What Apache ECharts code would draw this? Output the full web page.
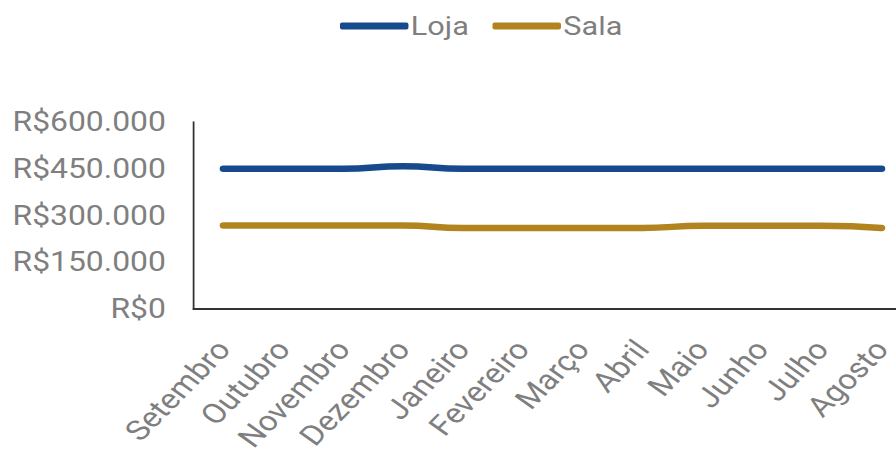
<!DOCTYPE html>
<html>
<head>
<meta charset="utf-8">
<script src="https://cdn.jsdelivr.net/npm/echarts@6/dist/echarts.min.js"></script>
<style>
  html, body { margin: 0; padding: 0; background: #fff; overflow: hidden; }
  #wrap { width: 896px; height: 453px; overflow: hidden; }
  /* chart is laid out narrower and widened horizontally */
  #chart { width: 759px; height: 453px; transform: scaleX(1.18050); transform-origin: 0 0; }
</style>
</head>
<body>
<div id="wrap"><div id="chart"></div></div>
<script>
const categories = ['Setembro', 'Outubro', 'Novembro', 'Dezembro', 'Janeiro', 'Fevereiro', 'Março', 'Abril', 'Maio', 'Junho', 'Julho', 'Agosto'];
const lojaValues = [450000, 450000, 450000, 458000, 450000, 450000, 450000, 450000, 450000, 450000, 450000, 450000];
const salaValues = [268000, 268000, 268000, 268000, 260000, 260000, 260000, 260000, 267000, 267000, 267000, 260000];
const seriesNames = ['Loja', 'Sala'];
const seriesColors = ['#174a8c', '#b2841f'];
const yMin = 0, yMax = 600000, yStep = 150000;

function formatBRL(v) {
  return 'R$' + String(Math.round(v)).replace(/\B(?=(\d{3})+(?!\d))/g, '.');
}

const grey = '#7f7f7f';
const font = 'Roboto';

const chart = echarts.init(document.getElementById('chart'), null, { renderer: 'svg' });
chart.setOption({
  animation: false,
  backgroundColor: '#fff',
  textStyle: { fontFamily: font },
  legend: {
    left: 283,
    top: 8,
    itemWidth: 58,
    itemHeight: 7,
    itemGap: 20,
    icon: 'roundRect',
    textStyle: { color: grey, fontSize: 26, fontFamily: font, padding: [0, 0, 0, -3] },
    data: seriesNames
  },
  grid: {
    left: 164,
    right: -13,
    top: 122,
    bottom: 144,
    containLabel: false,
    outerBoundsMode: 'none'
  },
  xAxis: {
    type: 'category',
    data: categories,
    boundaryGap: true,
    axisLine: { show: true, lineStyle: { color: '#333', width: 2 } },
    axisTick: { show: false },
    axisLabel: {
      rotate: 50,
      interval: 0,
      margin: 35,
      color: grey,
      fontSize: 28,
      fontFamily: font
    },
    splitLine: { show: false }
  },
  yAxis: {
    type: 'value',
    min: yMin,
    max: yMax,
    interval: yStep,
    axisLine: { show: true, lineStyle: { color: '#333', width: 1.5 } },
    axisTick: { show: false },
    splitLine: { show: false },
    axisLabel: {
      margin: 23.5,
      color: grey,
      fontSize: 27,
      fontFamily: font,
      formatter: formatBRL
    }
  },
  series: [
    {
      name: seriesNames[0],
      type: 'line',
      data: lojaValues,
      smooth: 0.5,
      showSymbol: false,
      color: seriesColors[0],
      lineStyle: { width: 6.5, cap: 'round', join: 'round' }
    },
    {
      name: seriesNames[1],
      type: 'line',
      data: salaValues,
      smooth: 0.5,
      showSymbol: false,
      color: seriesColors[1],
      lineStyle: { width: 6.5, cap: 'round', join: 'round' }
    }
  ]
});
</script>
</body>
</html>
